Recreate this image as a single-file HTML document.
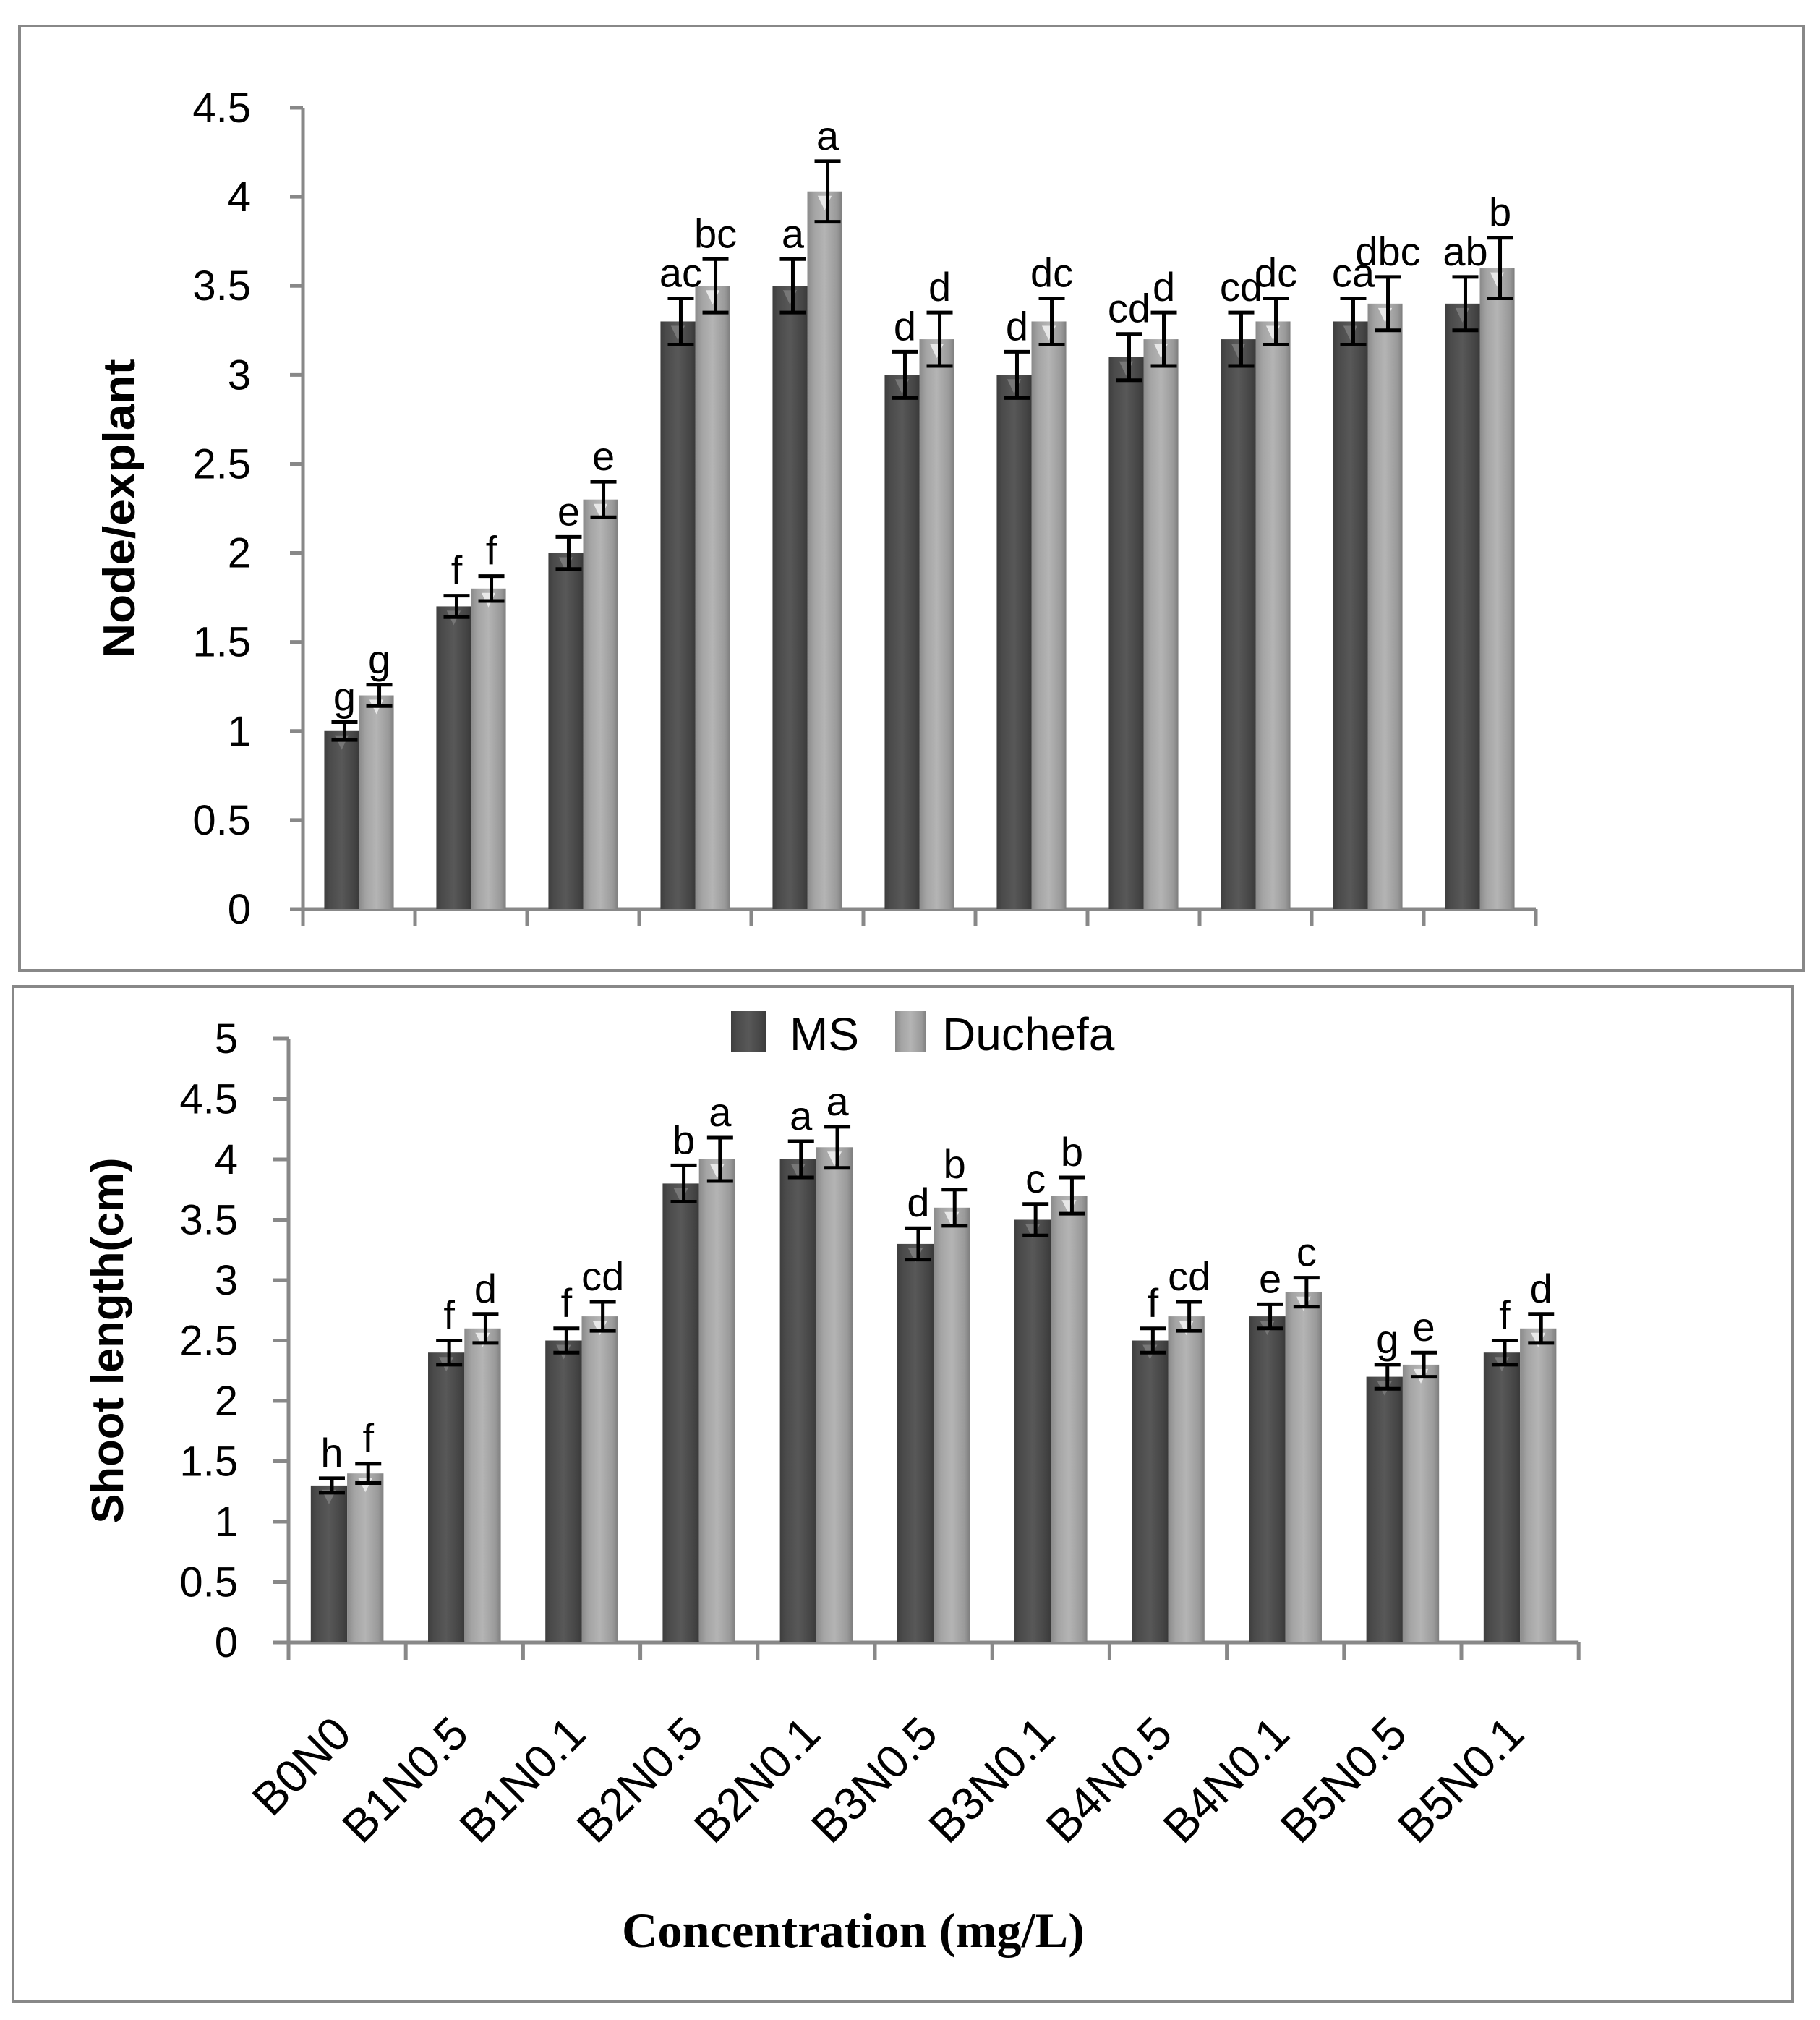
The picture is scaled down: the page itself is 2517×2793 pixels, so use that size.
<!DOCTYPE html>
<html><head><meta charset="utf-8"><style>
html,body{margin:0;padding:0;background:#fff;}
svg{display:block;}
text{font-family:"Liberation Sans",sans-serif;}
</style></head>
<body>
<svg id="chart" xmlns="http://www.w3.org/2000/svg" width="2517" height="2793" viewBox="0 0 2517 2793">
<defs>
<linearGradient id="gMS" x1="0" x2="1" y1="0" y2="0">
<stop offset="0" stop-color="#3e3e3e"/><stop offset="0.15" stop-color="#4a4a4a"/><stop offset="0.5" stop-color="#585858"/><stop offset="0.85" stop-color="#454545"/><stop offset="1" stop-color="#3a3a3a"/>
</linearGradient>
<linearGradient id="gDU" x1="0" x2="1" y1="0" y2="0">
<stop offset="0" stop-color="#8a8a8a"/><stop offset="0.2" stop-color="#a4a4a4"/><stop offset="0.5" stop-color="#b4b4b4"/><stop offset="0.85" stop-color="#9a9a9a"/><stop offset="1" stop-color="#7e7e7e"/>
</linearGradient>
</defs>
<rect x="27" y="36" width="2467" height="1306" fill="none" stroke="#888" stroke-width="4"/>
<rect x="18" y="1364" width="2461" height="1404" fill="none" stroke="#888" stroke-width="4"/>
<g id="top"></g>
<g id="bottom"></g>
<g>
<rect x="1011" y="1398" width="49" height="56" fill="url(#gMS)"/>
<text x="1092" y="1452" font-size="64">MS</text>
<rect x="1238" y="1398" width="43" height="56" fill="url(#gDU)"/>
<text x="1303" y="1452" font-size="64">Duchefa</text>
</g>
<text x="1180" y="2692" text-anchor="middle" font-size="68" font-weight="bold" textLength="640" lengthAdjust="spacingAndGlyphs" style="font-family:'Liberation Serif',serif">Concentration (mg/L)</text>
</svg>
<script>
const categories = ["B0N0","B1N0.5","B1N0.1","B2N0.5","B2N0.1","B3N0.5","B3N0.1","B4N0.5","B4N0.1","B5N0.5","B5N0.1"];
const nodeMS = [1.0,1.7,2.0,3.3,3.5,3.0,3.0,3.1,3.2,3.3,3.4];
const nodeMSErr = [0.05,0.06,0.09,0.13,0.15,0.13,0.13,0.13,0.15,0.13,0.15];
const nodeDU = [1.2,1.8,2.3,3.5,4.03,3.2,3.3,3.2,3.3,3.4,3.6];
const nodeDUErr = [0.06,0.07,0.1,0.15,0.17,0.15,0.13,0.15,0.13,0.15,0.17];
const nodeMSLetters = ["g","f","e","ac","a","d","d","cd","cd","ca","ab"];
const nodeDULetters = ["g","f","e","bc","a","d","dc","d","dc","dbc","b"];
const nodeTicks = ["0","0.5","1","1.5","2","2.5","3","3.5","4","4.5"];
const shootMS = [1.3,2.4,2.5,3.8,4.0,3.3,3.5,2.5,2.7,2.2,2.4];
const shootMSErr = [0.06,0.1,0.1,0.15,0.15,0.13,0.13,0.1,0.1,0.1,0.1];
const shootDU = [1.4,2.6,2.7,4.0,4.1,3.6,3.7,2.7,2.9,2.3,2.6];
const shootDUErr = [0.08,0.12,0.12,0.18,0.17,0.15,0.15,0.12,0.12,0.1,0.12];
const shootMSLetters = ["h","f","f","b","a","d","c","f","e","g","f"];
const shootDULetters = ["f","d","cd","a","a","b","b","cd","c","e","d"];
const shootTicks = ["0","0.5","1","1.5","2","2.5","3","3.5","4","4.5","5"];

const NS="http://www.w3.org/2000/svg";
function mk(tag, attrs, parent, txt){const e=document.createElementNS(NS,tag);for(const k in attrs)e.setAttribute(k,attrs[k]);if(txt!==undefined)e.textContent=txt;parent.appendChild(e);return e;}

function drawChart(g, cfg){
  const {x0,y0,yTop,maxV,catW,ms,msE,du,duE,msL,duL,ticks,title,titleX,titleLen,tickLen,labelsRight,showCats,prefix}=cfg;
  const yS=v=>y0-(v/maxV)*(y0-yTop);
  const xEnd=x0+catW*categories.length;
  const ax=mk('line',{x1:x0,y1:yTop,x2:x0,y2:y0,stroke:'#888','stroke-width':5},g);
  
  
  const xa=mk('line',{x1:x0-tickLen,y1:y0,x2:xEnd,y2:y0,stroke:'#888','stroke-width':5},g);
  
  
  ticks.forEach((t,i)=>{
    const v=i*0.5, y=yS(v);
    mk('line',{x1:x0-tickLen,y1:y,x2:x0,y2:y,stroke:'#888','stroke-width':5},g);
    const tl=mk('text',{x:labelsRight,y:y+20,'text-anchor':'end','font-size':58},g,t);
    
    
  });
  for(let i=0;i<=categories.length;i++){
    const x=x0+catW*i;
    mk('line',{x1:x,y1:y0,x2:x,y2:y0+24,stroke:'#888','stroke-width':5},g);
  }
  const bw=catW*0.31;
  categories.forEach((c,i)=>{
    const cx=x0+catW*(i+0.5);
    [[ms[i],msE[i],msL[i],cx-bw,'url(#gMS)','ms'],[du[i],duE[i],duL[i],cx,'url(#gDU)','duchefa']].forEach(([v,e,l,bx,fill,s])=>{
      const yt=yS(v);
      const r=mk('rect',{x:bx,y:yt,width:bw,height:y0-yt,fill:fill},g);
      
      
      mk('polygon',{points:`${bx+bw*0.3},${yt+6} ${bx+bw*0.7},${yt+6} ${bx+bw*0.5},${yt+26}`,fill:s==='ms'?'#777':'#e8e8e8'},g);
      const ex=bx+bw*0.5+4, eT=yS(v+e), eB=yS(v-e);
      const eb=mk('path',{d:`M${ex},${eT}V${eB}M${ex-18},${eT}H${ex+18}M${ex-18},${eB}H${ex+18}`,stroke:'#000','stroke-width':5,fill:'none'},g);
      
      
      const lt=mk('text',{x:ex,y:eT-16,'text-anchor':'middle','font-size':56},g,l);
      
      
    });
    if(showCats){
      const cl=mk('text',{x:cx+9,y:y0+130,'text-anchor':'end','font-size':64,transform:`rotate(-45 ${cx+9} ${y0+130})`},g,c);
      
      
    }
  });
  const cy=(y0+yTop)/2;
  const tt=mk('text',{x:titleX,y:cy,'text-anchor':'middle','font-size':62,'font-weight':'bold',textLength:titleLen,lengthAdjust:'spacingAndGlyphs',transform:`rotate(-90 ${titleX} ${cy})`},g,title);
  
  
}
drawChart(document.getElementById('top'),{x0:419,y0:1257,yTop:149,maxV:4.5,catW:155,ms:nodeMS,msE:nodeMSErr,du:nodeDU,duE:nodeDUErr,msL:nodeMSLetters,duL:nodeDULetters,ticks:nodeTicks,title:'Node/explant',titleX:186,titleLen:413,tickLen:18,labelsRight:347,showCats:false,prefix:'node'});
drawChart(document.getElementById('bottom'),{x0:399,y0:2271,yTop:1436,maxV:5,catW:162.2,ms:shootMS,msE:shootMSErr,du:shootDU,duE:shootDUErr,msL:shootMSLetters,duL:shootDULetters,ticks:shootTicks,title:'Shoot length(cm)',titleX:170,titleLen:506,tickLen:22,labelsRight:329,showCats:true,prefix:'shoot'});
</script>
</body></html>
